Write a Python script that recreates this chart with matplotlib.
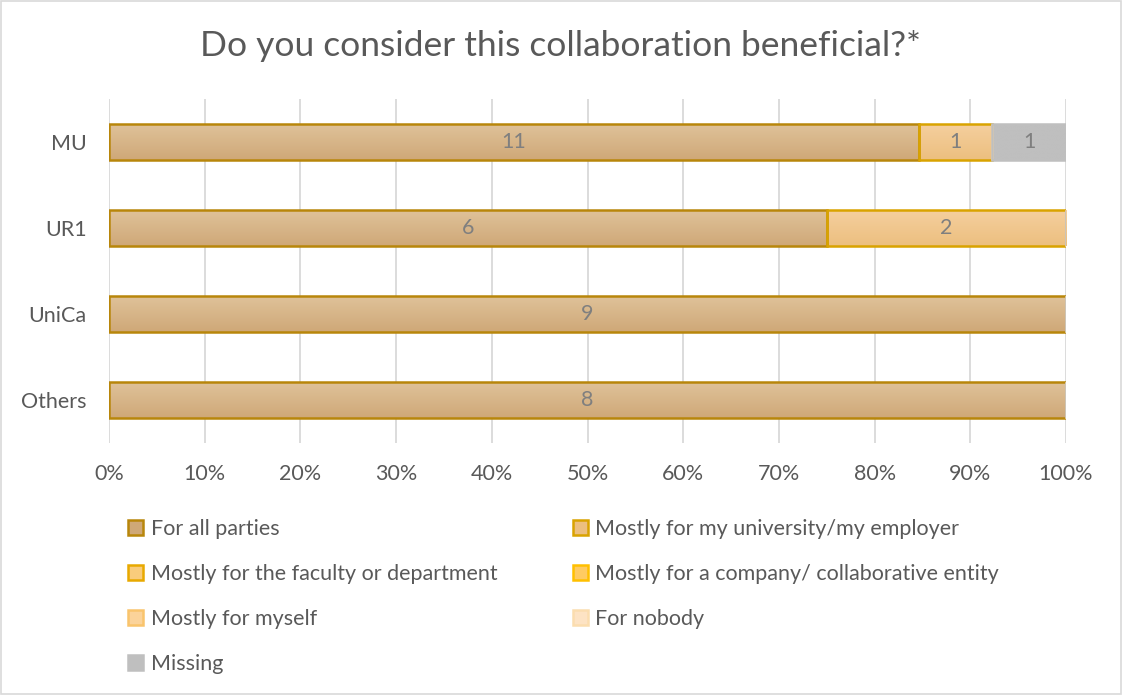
import numpy as np
import matplotlib.pyplot as plt
from matplotlib.colors import to_rgb
from matplotlib.patches import Patch, Rectangle

plt.rcParams['font.family'] = ['Lato', 'DejaVu Sans']

groups = ["MU", "UR1", "UniCa", "Others"]
answers = ["For all parties", "Mostly for my university/my employer",
           "Mostly for the faculty or department", "Mostly for a company/ collaborative entity",
           "Mostly for myself", "For nobody", "Missing"]
counts = {
    "For all parties": [11, 6, 9, 8],
    "Mostly for my university/my employer": [1, 2, 0, 0],
    "Mostly for the faculty or department": [0, 0, 0, 0],
    "Mostly for a company/ collaborative entity": [0, 0, 0, 0],
    "Mostly for myself": [0, 0, 0, 0],
    "For nobody": [0, 0, 0, 0],
    "Missing": [1, 0, 0, 0],
}
# light (top) and dark (bottom) ends of each fill gradient
tops = ["#DFC29A", "#F5CF9E", "#FDD89A", "#FFD88A", "#FDDFB0", "#FEEBD2", "#BFBFBF"]
bottoms = ["#CFA877", "#ECBF7F", "#F9CC7C", "#FFCB62", "#FBD39A", "#FDE3C4", "#BFBFBF"]
edges = ["#B8860B", "#D9A300", "#E8A900", "#FFC000", "#F9C46C", "#FBDDAF", "#BFBFBF"]


def gradient(ax, bar, top, bottom):
    x, y = bar.get_x(), bar.get_y()
    w, h = bar.get_width(), bar.get_height()
    t, b = np.array(to_rgb(top)), np.array(to_rgb(bottom))
    ramp = np.linspace(0, 1, 64)[:, None, None]
    img = t + (b - t) * ramp
    im = ax.imshow(img, extent=(x, x + w, y, y + h), aspect="auto",
                   interpolation="bilinear", zorder=2.5)
    im.set_clip_path(bar)


fig = plt.figure(figsize=(11.22, 6.95), dpi=100)
ax = fig.add_axes([109 / 1122, 1 - 443 / 695, 957 / 1122, 344 / 695])

totals = np.sum([counts[a] for a in answers], axis=0)
ypos = np.arange(len(groups))[::-1]
left = np.zeros(len(groups))
for a, tc, bc, ec in zip(answers, tops, bottoms, edges):
    vals = np.array(counts[a], dtype=float)
    share = vals / totals
    bars = ax.barh(ypos, share, left=left, height=0.41, color="none",
                   edgecolor=ec, linewidth=1.8, zorder=3)
    for bar, v in zip(bars, vals):
        if v > 0:
            gradient(ax, bar, tc, bc)
    for y, v, s, l in zip(ypos, vals, share, left):
        if v > 0:
            ax.text(l + s / 2, y, f"{int(v)}", ha="center", va="center",
                    fontsize=15.5, color="#7F7F7F", zorder=4)
    left += share

ax.set_xlim(0, 1)
ax.set_ylim(-0.5, len(groups) - 0.5)
ax.set_xticks(np.linspace(0, 1, 11))
ax.set_xticklabels([f"{int(t)}%" for t in range(0, 101, 10)])
ax.set_yticks(ypos)
ax.set_yticklabels(groups)
ax.tick_params(axis="both", length=0, labelsize=15.5, labelcolor="#595959")
ax.tick_params(axis="x", pad=15)
ax.tick_params(axis="y", pad=16)
ax.grid(axis="x", color="#D9D9D9", linewidth=1.3, zorder=0)
for s in ax.spines.values():
    s.set_visible(False)

fig.text(0.5, 1 - 46 / 695, "Do you consider this collaboration beneficial?*",
         ha="center", va="center", fontsize=25.5, color="#595959")

handles = [Patch(facecolor=bc, edgecolor=ec, linewidth=1.8, label=a)
           for a, bc, ec in zip(answers, bottoms, edges)]
order = [0, 2, 4, 6, 1, 3, 5]
fig.legend([handles[i] for i in order], [answers[i] for i in order],
           ncol=2, loc="upper left", bbox_to_anchor=(109 / 1122, 1 - 500 / 695),
           frameon=False, fontsize=15.5, labelcolor="#595959",
           handlelength=0.7, handleheight=0.7, handletextpad=0.35,
           labelspacing=1.16, columnspacing=3.48)

fig.add_artist(Rectangle((1 / 1122, 1 / 695), 1 - 2 / 1122, 1 - 2 / 695,
                         transform=fig.transFigure, fill=False,
                         edgecolor="#D9D9D9", linewidth=1.2))

fig.savefig("out.png", dpi=100)
